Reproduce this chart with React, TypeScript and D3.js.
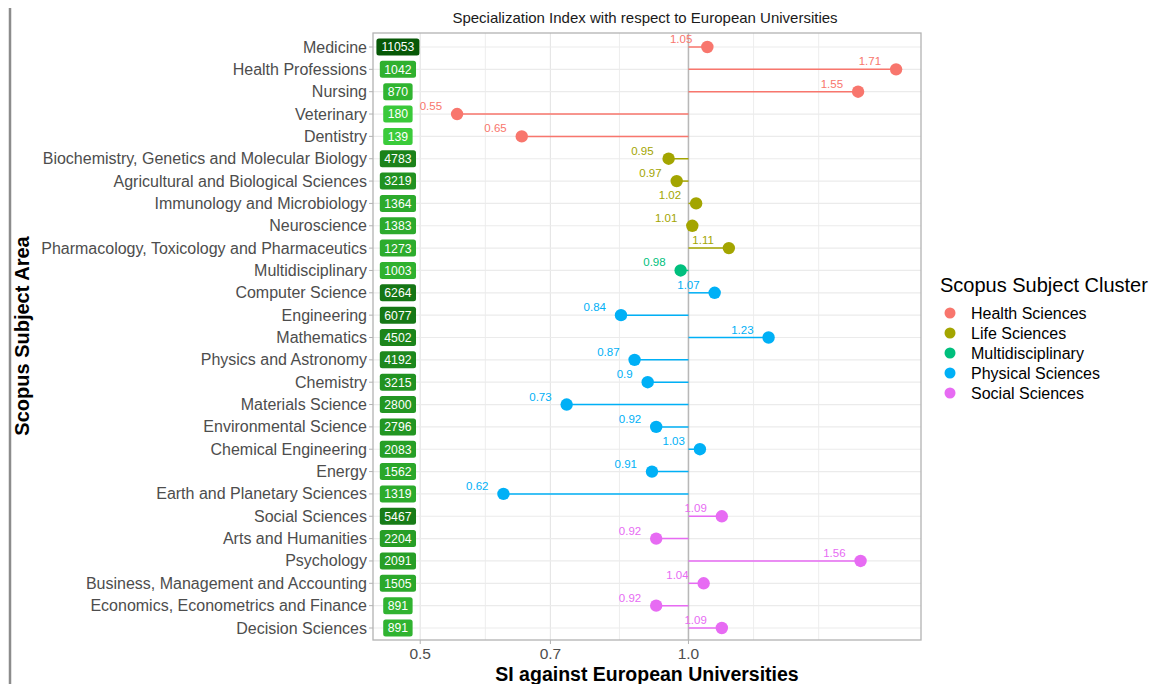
import React from "react";
import * as d3 from "d3";

// Scopus subject areas, top to bottom
const subjects = [
  "Medicine",
  "Health Professions",
  "Nursing",
  "Veterinary",
  "Dentistry",
  "Biochemistry, Genetics and Molecular Biology",
  "Agricultural and Biological Sciences",
  "Immunology and Microbiology",
  "Neuroscience",
  "Pharmacology, Toxicology and Pharmaceutics",
  "Multidisciplinary",
  "Computer Science",
  "Engineering",
  "Mathematics",
  "Physics and Astronomy",
  "Chemistry",
  "Materials Science",
  "Environmental Science",
  "Chemical Engineering",
  "Energy",
  "Earth and Planetary Sciences",
  "Social Sciences",
  "Arts and Humanities",
  "Psychology",
  "Business, Management and Accounting",
  "Economics, Econometrics and Finance",
  "Decision Sciences",
];

// Specialization index against European universities
const siValues = [
  1.05, 1.71, 1.55, 0.55, 0.65,
  0.95, 0.97, 1.02, 1.01, 1.11,
  0.98,
  1.07, 0.84, 1.23, 0.87, 0.9, 0.73, 0.92, 1.03, 0.91, 0.62,
  1.09, 0.92, 1.56, 1.04, 0.92, 1.09,
];

// Publication counts per subject area
const pubCounts = [
  11053, 1042, 870, 180, 139,
  4783, 3219, 1364, 1383, 1273,
  1003,
  6264, 6077, 4502, 4192, 3215, 2800, 2796, 2083, 1562, 1319,
  5467, 2204, 2091, 1505, 891, 891,
];

// Subject cluster of each area
const clusterOf = [
  "Health Sciences", "Health Sciences", "Health Sciences", "Health Sciences", "Health Sciences",
  "Life Sciences", "Life Sciences", "Life Sciences", "Life Sciences", "Life Sciences",
  "Multidisciplinary",
  "Physical Sciences", "Physical Sciences", "Physical Sciences", "Physical Sciences", "Physical Sciences",
  "Physical Sciences", "Physical Sciences", "Physical Sciences", "Physical Sciences", "Physical Sciences",
  "Social Sciences", "Social Sciences", "Social Sciences", "Social Sciences", "Social Sciences", "Social Sciences",
];

const clusters = [
  "Health Sciences",
  "Life Sciences",
  "Multidisciplinary",
  "Physical Sciences",
  "Social Sciences",
];
const clusterColors = ["#F8766D", "#A3A500", "#00BF7D", "#00B0F6", "#E76BF3"];

const xTicks = [0.5, 0.7, 1.0];
const countLabelAt = 0.472; // x position of the publication-count labels
const baseline = 1.0;

const FONT = "'Liberation Sans', Arial, Helvetica, sans-serif";

export default function App() {
  const W = 1154;
  const H = 684;
  const panel = { left: 373, right: 921, top: 33, bottom: 640 };

  // log x scale, expanded 5% on each side of the data range
  const lo = Math.log(countLabelAt);
  const hi = Math.log(d3.max(siValues) as number);
  const pad = (hi - lo) * 0.05;
  const x = d3
    .scaleLog()
    .domain([Math.exp(lo - pad), Math.exp(hi + pad)])
    .range([panel.left, panel.right]);

  const y = d3
    .scalePoint<string>()
    .domain(subjects)
    .range([47, 628]);

  const color = d3.scaleOrdinal<string, string>().domain(clusters).range(clusterColors);

  const fill = d3
    .scalePow()
    .exponent(0.5)
    .domain([139, 11053])
    .range(["#3acb3a", "#075807"] as any)
    .interpolate(d3.interpolateLab as any) as unknown as (v: number) => string;

  // minor grid: midpoints between major breaks plus one step beyond
  const lt = xTicks.map(Math.log);
  const step = lt[1] - lt[0];
  const ext = [lt[0] - step, ...lt, lt[lt.length - 1] + step];
  const minor: number[] = [];
  for (let i = 0; i < ext.length - 1; i++) minor.push((ext[i] + ext[i + 1]) / 2);
  minor.push(ext[ext.length - 1]);
  const minorVals = minor
    .map(Math.exp)
    .filter((v) => v > x.domain()[0] && v < x.domain()[1]);

  const x0 = x(baseline);

  return (
    <svg width={W} height={H} style={{ position: "absolute", left: 0, top: 0, background: "#fff" }} fontFamily={FONT}>
      <rect x={0} y={0} width={W} height={H} fill="#fff" />
      <line x1={10} x2={10} y1={8} y2={H} stroke="#8c8c8c" strokeWidth={2.5} />

      {/* title */}
      <text x={645} y={23} textAnchor="middle" fontSize={15} fill="#1a1a1a">
        Specialization Index with respect to European Universities
      </text>

      {/* panel grid */}
      {minorVals.map((v, i) => (
        <line key={"mn" + i} x1={x(v)} x2={x(v)} y1={panel.top} y2={panel.bottom} stroke="#ededed" strokeWidth={1} />
      ))}
      {xTicks.map((v) => (
        <line key={"mj" + v} x1={x(v)} x2={x(v)} y1={panel.top} y2={panel.bottom} stroke="#e6e6e6" strokeWidth={1.2} />
      ))}
      {subjects.map((s) => (
        <line key={"hg" + s} x1={panel.left} x2={panel.right} y1={y(s)} y2={y(s)} stroke="#ebebeb" strokeWidth={1.2} />
      ))}

      {/* reference line at SI = 1 */}
      <line x1={x0} x2={x0} y1={panel.top} y2={panel.bottom} stroke="#b8b8b8" strokeWidth={1.5} />

      {/* lollipops */}
      {subjects.map((s, i) => {
        const c = color(clusterOf[i]);
        const cx = x(siValues[i]);
        const cy = y(s) as number;
        return (
          <g key={"lp" + s}>
            <line x1={x0} x2={cx} y1={cy} y2={cy} stroke={c} strokeWidth={1.5} />
            <circle cx={cx} cy={cy} r={6.2} fill={c} />
            <text x={cx - 15} y={cy - 4} textAnchor="end" fontSize={11.5} fill={c}>
              {String(siValues[i])}
            </text>
          </g>
        );
      })}

      {/* publication counts */}
      {subjects.map((s, i) => {
        const label = String(pubCounts[i]);
        const cy = y(s) as number;
        const cx = x(countLabelAt);
        const w = label.length * 6.8 + 9;
        return (
          <g key={"cnt" + s}>
            <rect x={cx - w / 2} y={cy - 8.5} width={w} height={17} rx={2.5} fill={fill(pubCounts[i])} />
            <text x={cx} y={cy + 4.4} textAnchor="middle" fontSize={12.2} fill="#ffffff">
              {label}
            </text>
          </g>
        );
      })}

      {/* panel border */}
      <rect
        x={panel.left}
        y={panel.top}
        width={panel.right - panel.left}
        height={panel.bottom - panel.top}
        fill="none"
        stroke="#b3b3b3"
        strokeWidth={1.3}
      />

      {/* y axis */}
      {subjects.map((s) => (
        <g key={"yt" + s}>
          <line x1={panel.left - 4} x2={panel.left} y1={y(s)} y2={y(s)} stroke="#b3b3b3" strokeWidth={1} />
          <text x={panel.left - 6} y={(y(s) as number) + 5.5} textAnchor="end" fontSize={16} fill="#4d4d4d">
            {s}
          </text>
        </g>
      ))}

      {/* x axis */}
      {xTicks.map((v) => (
        <g key={"xt" + v}>
          <line x1={x(v)} x2={x(v)} y1={panel.bottom} y2={panel.bottom + 4} stroke="#b3b3b3" strokeWidth={1} />
          <text x={x(v)} y={panel.bottom + 19} textAnchor="middle" fontSize={15.5} fill="#4d4d4d">
            {d3.format(".1f")(v)}
          </text>
        </g>
      ))}

      <text x={647} y={681} textAnchor="middle" fontSize={19.5} fontWeight="bold" fill="#000">
        SI against European Universities
      </text>
      <text
        transform={`translate(29, 336) rotate(-90)`}
        textAnchor="middle"
        fontSize={20}
        fontWeight="bold"
        fill="#000"
      >
        Scopus Subject Area
      </text>

      {/* legend */}
      <text x={940} y={292} fontSize={20} fill="#000">
        Scopus Subject Cluster
      </text>
      {clusters.map((c, i) => (
        <g key={"lg" + c}>
          <circle cx={950} cy={313 + i * 20} r={5.5} fill={clusterColors[i]} />
          <text x={971} y={313 + i * 20 + 5.5} fontSize={16} fill="#000">
            {c}
          </text>
        </g>
      ))}
    </svg>
  );
}
